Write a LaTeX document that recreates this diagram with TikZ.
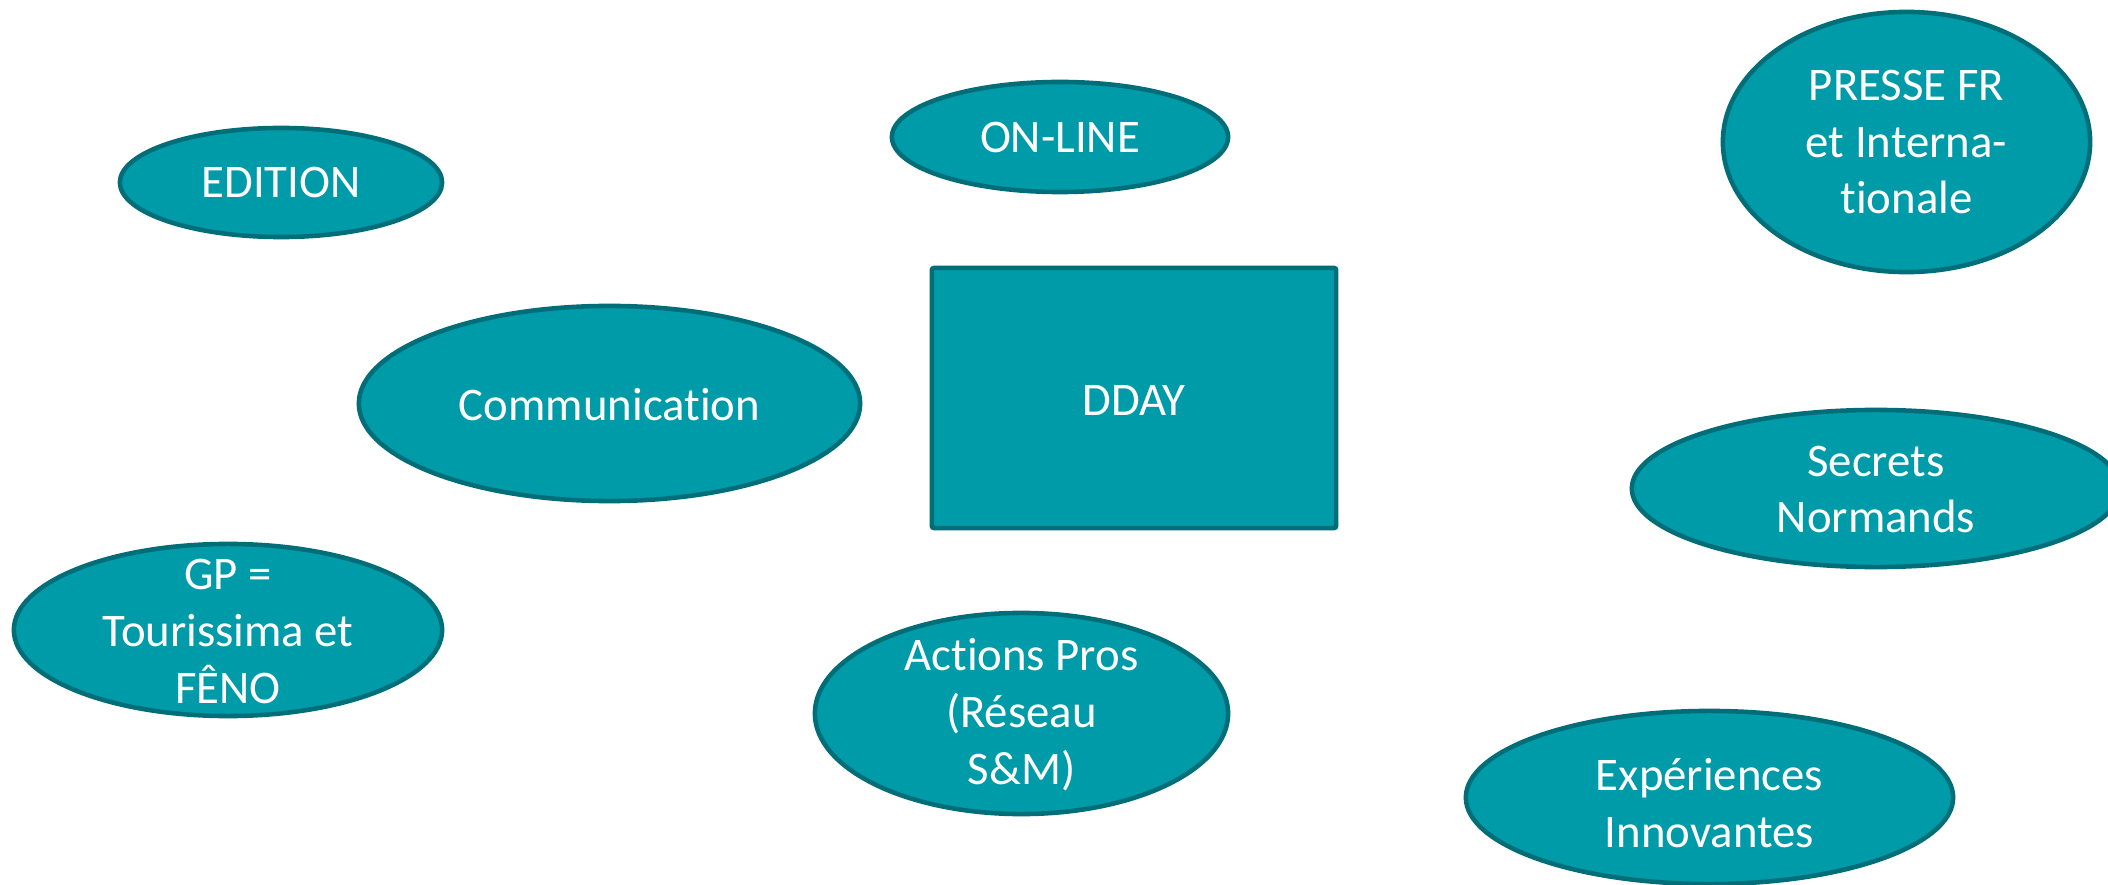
\documentclass[tikz,border=0pt]{standalone}
\usepackage{fontspec}
\setmainfont{Carlito}[Ligatures=NoCommon]
\usetikzlibrary{shapes.geometric}
\definecolor{tealfill}{RGB}{0,155,168}
\definecolor{tealline}{RGB}{0,110,120}
\begin{document}
\begin{tikzpicture}[x=0.01cm,y=-0.01cm,
  blob/.style={ellipse, draw=tealline, fill=tealfill, line width=1.3pt, inner sep=0pt},
  box/.style={rectangle, draw=tealline, fill=tealfill, line width=1.3pt, rounded corners=0.6pt, inner sep=0pt},
  lbl/.style={text=white, align=center, font=\fontsize{13.3}{16.2}\selectfont, inner sep=0pt}]
\useasboundingbox (0,0) rectangle (2108,885);
\clip (0,0) rectangle (2108,885);
\fill[white] (0,0) rectangle (2108,885);

\node[blob, minimum width=3.22cm, minimum height=1.09cm] (edition) at (281,182.5) {};
\node[lbl] (editiont) at (edition.center) {EDITION};

\node[blob, minimum width=3.36cm, minimum height=1.10cm] (online) at (1060,137) {};
\node[lbl] (onlinet) at (online.center) {ON-LINE};

\node[blob, minimum width=3.67cm, minimum height=2.60cm] (presse) at (1906.5,142) {};
\node[lbl] (presset) at (presse.center) {PRESSE FR\\et Interna-\\tionale};

\node[blob, minimum width=5.01cm, minimum height=1.95cm] (comm) at (609.5,403.5) {};
\node[lbl] (commt) at (609.5,405) {Communication};

\node[box, minimum width=4.04cm, minimum height=2.60cm] (dday) at (1134,398) {};
\node[lbl] (ddayt) at (1134,400) {DDAY};

\node[blob, minimum width=4.88cm, minimum height=1.57cm] (secrets) at (1876,488.5) {};
\node[lbl] (secretst) at (1876,489.5) {Secrets\\Normands};

\node[blob, minimum width=4.28cm, minimum height=1.72cm] (gp) at (228,630) {};
\node[lbl] (gpt) at (228,631.5) {GP =\\Tourissima et\\FÊNO};

\node[blob, minimum width=4.13cm, minimum height=2.01cm] (actions) at (1021.5,713.5) {};
\node[lbl] (actionst) at (1021.5,715) {Actions Pros\\(Réseau\\S\&M)};

\node[blob, minimum width=4.87cm, minimum height=1.73cm] (exp) at (1709.5,797.5) {};
\node[lbl] (expt) at (1709.5,803) {Expériences\\Innovantes};
\end{tikzpicture}
\end{document}
